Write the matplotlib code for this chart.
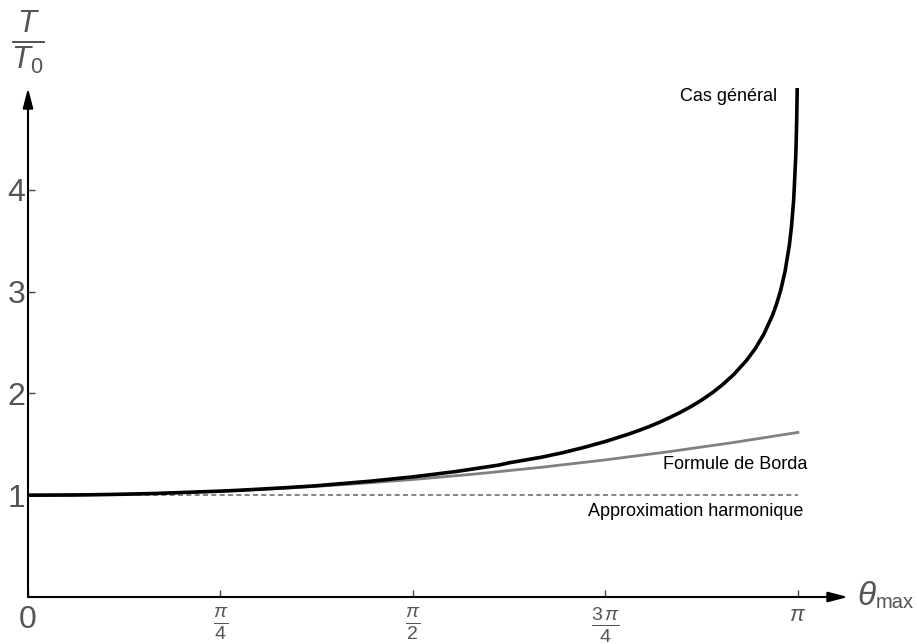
"""
Période du pendule simple en fonction de l'amplitude.
"""
import matplotlib
matplotlib.use("Agg")
import matplotlib.pyplot as plt

plt.rcParams["font.family"] = ["Liberation Sans", "DejaVu Sans"]
plt.rcParams["mathtext.fontset"] = "custom"
plt.rcParams["mathtext.rm"] = "Liberation Sans"
plt.rcParams["mathtext.it"] = "Liberation Sans:italic"

# ── Données (theta en degrés) ────────────────────────────────────────────────
theta_general = [0, 10, 15, 22.5, 30, 45, 50, 60, 67.5, 70, 80, 90, 100, 110,
                 112.5, 120, 125, 130, 135, 140, 142.5, 145, 147.5, 150,
                 152.5, 155, 157.5, 160, 162.5, 165, 168, 170, 172, 174, 175,
                 176, 177, 178, 178.5, 179, 179.5, 179.7, 179.8, 179.85]
T_general = [1.0, 1.0019, 1.0043, 1.0097, 1.0174, 1.0400, 1.0498, 1.0732,
             1.0930, 1.1021, 1.1375, 1.1803, 1.2322, 1.2953, 1.3185, 1.3729,
             1.4175, 1.4698, 1.5279, 1.5945, 1.6310, 1.6705, 1.7140, 1.7622,
             1.8140, 1.871, 1.935, 2.007, 2.090, 2.186, 2.325, 2.439, 2.580,
             2.762, 2.878, 3.019, 3.202, 3.460, 3.643, 3.901, 4.342, 4.668,
             4.926, 5.109]

theta_borda = [0, 15, 30, 45, 60, 75, 90, 105, 120, 135, 150, 165, 180]
T_borda = [1.0, 1.0043, 1.0171, 1.0386, 1.0685, 1.1071, 1.1542, 1.2099,
           1.2742, 1.3470, 1.4284, 1.5183, 1.6169]

theta_harmo = [0, 180]
T_harmo = [1.0, 1.0]

xticks = [0, 45, 90, 135, 180]
xtick_labels = ["0", r"$\frac{\pi}{4}$", r"$\frac{\pi}{2}$",
                r"$\frac{3\,\pi}{4}$", r"$\pi$"]
yticks = [1, 2, 3, 4]

GREY_TXT = "#555555"

fig = plt.figure(figsize=(9.17, 6.44), dpi=100)
ax = fig.add_axes([28 / 917, 47 / 644, 820 / 917, 509 / 644])
ax.set_xlim(0, 191.7)
ax.set_ylim(0, 5.0)

ax.plot(theta_harmo, T_harmo, color="#707070", lw=1.2, dashes=(3, 2))
ax.plot(theta_borda, T_borda, color="#808080", lw=2.0)
ax.plot(theta_general, T_general, color="black", lw=2.6)

for s in ax.spines.values():
    s.set_visible(False)

arrow = dict(arrowstyle="-|>,head_length=0.85,head_width=0.22",
             color="black", lw=1.5, mutation_scale=14, shrinkA=0, shrinkB=0)
ax.annotate("", xy=(1, 0), xytext=(0, 0), xycoords="axes fraction",
            textcoords="axes fraction", arrowprops=arrow, annotation_clip=False)
ax.annotate("", xy=(0, 1), xytext=(0, 0), xycoords="axes fraction",
            textcoords="axes fraction", arrowprops=arrow, annotation_clip=False)

ax.set_xticks(xticks)
ax.set_xticklabels(xtick_labels)
ax.set_yticks(yticks)
ax.set_yticklabels([str(v) for v in yticks])
ax.tick_params(axis="both", direction="in", length=5, width=1,
               color="#444444", labelcolor=GREY_TXT, labelsize=20)
ax.tick_params(axis="y", pad=2, labelsize=23)
ax.tick_params(axis="x", pad=6)
ax.get_xticklabels()[0].set_fontsize(23)
ax.get_xticklabels()[-1].set_fontsize(16)

# ── Légendes des courbes ─────────────────────────────────────────────────────
ax.text(175.1, 4.92, "Cas général", ha="right", va="center", fontsize=13)
ax.text(182.3, 1.30, "Formule de Borda", ha="right", va="center", fontsize=13)
ax.text(181.2, 0.84, "Approximation harmonique", ha="right", va="center",
        fontsize=13)

# ── Noms des axes ────────────────────────────────────────────────────────────
fig.text(28 / 917, 1 - 43 / 644, r"$\frac{T}{T_0}$", ha="center", va="center",
         fontsize=32, color=GREY_TXT)
fig.text(857 / 917, 1 - 605 / 644, r"$\theta$", ha="left", va="baseline",
         fontsize=24, color=GREY_TXT)
fig.text(876 / 917, 1 - 608 / 644, "max", ha="left", va="baseline",
         fontsize=14.5, color=GREY_TXT)

fig.savefig("out.png", dpi=100, facecolor="white")
plt.close(fig)
